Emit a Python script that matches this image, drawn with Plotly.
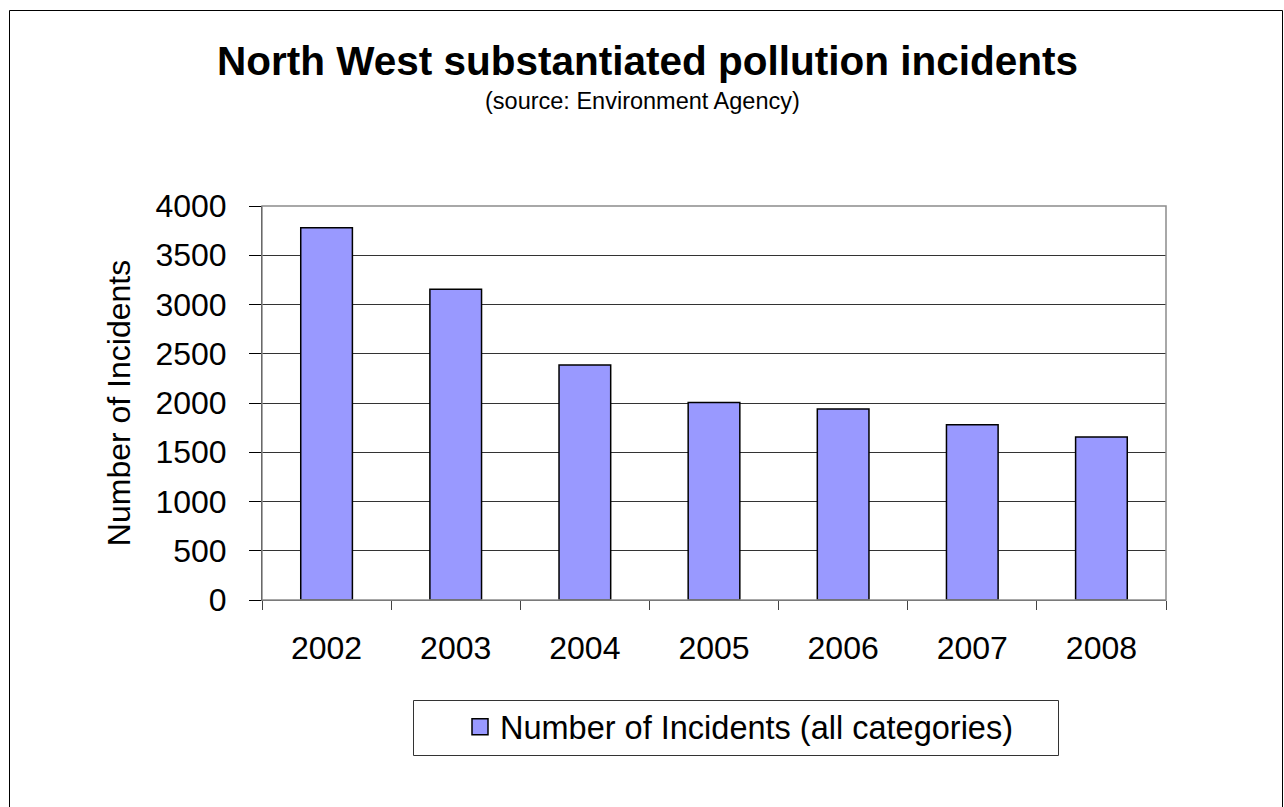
import plotly.graph_objects as go

years = ["2002", "2003", "2004", "2005", "2006", "2007", "2008"]
incidents = [3780, 3155, 2385, 2005, 1940, 1780, 1655]
series_name = "Number of Incidents (all categories)"
title_text = "North West substantiated pollution incidents"
subtitle_text = "(source: Environment Agency)"
y_title = "Number of Incidents"
y_ticks = [0, 500, 1000, 1500, 2000, 2500, 3000, 3500, 4000]

FONT = "Arial, 'Liberation Sans', sans-serif"
BAR_COLOR = "#9999FF"

W, H = 1284, 807
L, R, T, B = 262, 1166, 206, 600  # plot area in pixels


def px_x(p):
    return (p - L) / (R - L)


def px_y(p):
    return (B - p) / (B - T)


fig = go.Figure()
fig.add_trace(go.Bar(
    x=years, y=incidents, name=series_name, showlegend=False,
    marker=dict(color=BAR_COLOR, line=dict(color="black", width=1.5)),
))
# legend-only entry with a larger square swatch
fig.add_trace(go.Scatter(
    x=[None], y=[None], mode="markers", name=series_name,
    marker=dict(symbol="square", size=16, color=BAR_COLOR,
                line=dict(color="black", width=1.5)),
))

fig.update_layout(
    width=W, height=H, autosize=False,
    margin=dict(l=L, r=W - R, t=T, b=H - B, pad=0),
    paper_bgcolor="white", plot_bgcolor="white",
    font=dict(family=FONT, color="black", size=32),
    bargap=0.6,
    showlegend=True,
    legend=dict(
        x=px_x(460), y=px_y(727), xanchor="left", yanchor="middle",
        bgcolor="rgba(0,0,0,0)", borderwidth=0,
        font=dict(size=32.5, family=FONT),
    ),
    xaxis=dict(
        type="category", showgrid=False, showline=True, linecolor="#444",
        linewidth=1, ticks="outside", ticklen=9, tickcolor="#444",
        tickson="boundaries", ticklabelstandoff=20,
        tickfont=dict(size=32), zeroline=False,
    ),
    yaxis=dict(
        range=[0, 4000], tickvals=y_ticks, showgrid=True, gridcolor="#333",
        gridwidth=1, showline=True, linecolor="black", linewidth=1,
        ticks="outside", ticklen=12, tickcolor="black",
        ticklabelstandoff=16, tickfont=dict(size=32), zeroline=False,
        title=dict(text=y_title, font=dict(size=32), standoff=15),
    ),
    annotations=[
        dict(text="<b>" + title_text + "</b>", xref="paper", yref="paper",
             x=px_x(647), y=px_y(61), xanchor="center", yanchor="middle",
             showarrow=False, font=dict(size=40.5, family=FONT)),
        dict(text=subtitle_text, xref="paper", yref="paper",
             x=px_x(642), y=px_y(101), xanchor="center", yanchor="middle",
             showarrow=False, font=dict(size=23.5, family=FONT)),
    ],
    shapes=[
        # outer chart border
        dict(type="rect", xref="paper", yref="paper",
             x0=px_x(9.5), x1=px_x(1282.5), y0=px_y(815), y1=px_y(10.5),
             line=dict(color="black", width=1), fillcolor="rgba(0,0,0,0)"),
        # plot area border (top/right grey)
        dict(type="rect", xref="paper", yref="paper", layer="above",
             x0=0, x1=1, y0=0, y1=1,
             line=dict(color="#8c8c8c", width=1.5), fillcolor="rgba(0,0,0,0)"),
        # legend box
        dict(type="rect", xref="paper", yref="paper",
             x0=px_x(413.5), x1=px_x(1058.5), y0=px_y(755.5), y1=px_y(700.5),
             line=dict(color="#333", width=1), fillcolor="rgba(0,0,0,0)"),
    ],
)
fig.update_yaxes(layer="above traces")
fig.update_xaxes(layer="above traces")

fig.write_html("out.html")
